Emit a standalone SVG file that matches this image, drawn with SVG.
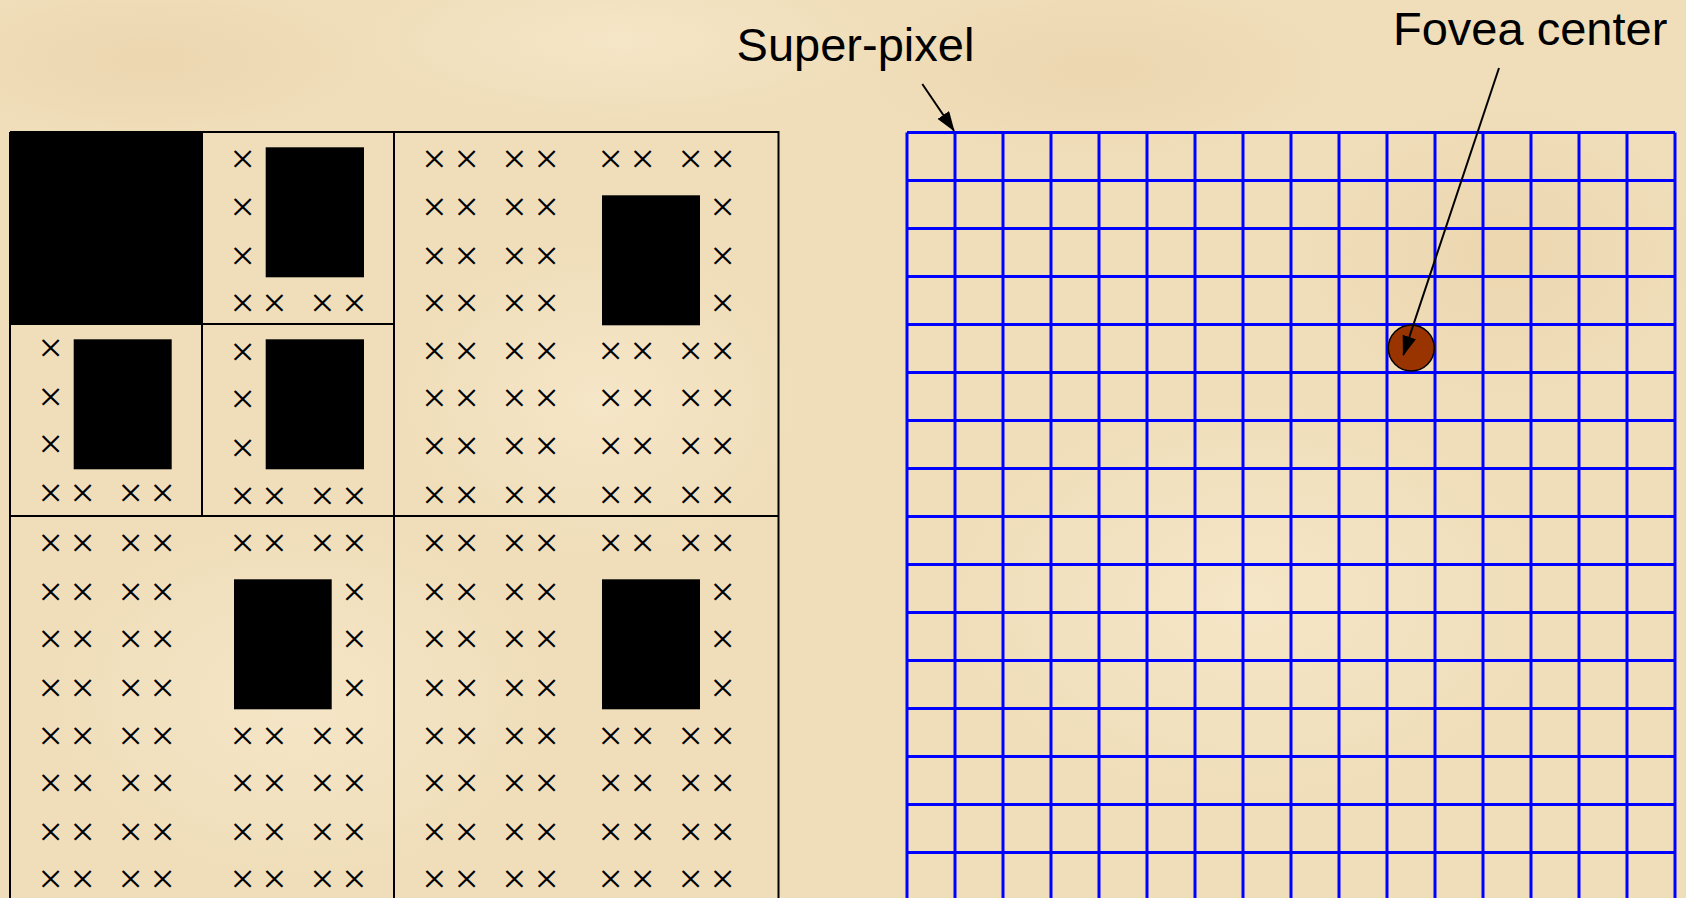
<svg xmlns="http://www.w3.org/2000/svg" width="1686" height="898" viewBox="0 0 1686 898">
<defs>
<style>
.bg{fill:#F0DEBA}
.ln{stroke:#000;stroke-width:2;fill:none}
.blk{fill:#000}
.x{font-family:"Liberation Serif","Times New Roman",serif;font-size:43px;fill:#000;text-anchor:middle}
.lbl{font-family:"Liberation Sans",Arial,sans-serif;font-size:47px;fill:#000}
.grid{stroke:#0000FF;stroke-width:3;fill:none}
.arr{stroke:#000;stroke-width:2;fill:none}
</style>
<marker id="ah" markerWidth="20" markerHeight="14" refX="19" refY="7" orient="auto" markerUnits="userSpaceOnUse">
<path d="M0,0 L20,7 L0,14 z" fill="#000"/>
</marker>
<radialGradient id="blot" cx="50%" cy="50%" r="50%">
<stop offset="0" stop-color="#E6CDA2" stop-opacity="0.45"/>
<stop offset="1" stop-color="#E6CDA2" stop-opacity="0"/>
</radialGradient>
<radialGradient id="lite" cx="50%" cy="50%" r="50%">
<stop offset="0" stop-color="#F8EBD0" stop-opacity="0.6"/>
<stop offset="1" stop-color="#F8EBD0" stop-opacity="0"/>
</radialGradient>
</defs>

<g id="background">
<rect class="bg" x="0" y="0" width="1686" height="898"/>
<ellipse cx="150" cy="60" rx="220" ry="80" fill="url(#blot)"/>
<ellipse cx="620" cy="40" rx="260" ry="80" fill="url(#lite)"/>
<ellipse cx="1100" cy="70" rx="240" ry="90" fill="url(#blot)"/>
<ellipse cx="1250" cy="600" rx="300" ry="200" fill="url(#lite)"/>
<ellipse cx="1500" cy="250" rx="200" ry="150" fill="url(#blot)"/>
<ellipse cx="300" cy="700" rx="250" ry="180" fill="url(#lite)"/>
<ellipse cx="600" cy="400" rx="200" ry="160" fill="url(#lite)"/>
</g>

<g id="quadtree">
<g id="frame">
<path class="ln" d="M10,132 H778.5 V900 M10,132 V900 M394,132 V900 M10,516 H778.5 M202,132 V516 M10,324 H394"/>
</g>
<g id="block-a">
<rect class="blk" x="10" y="132" width="193" height="192"/>
</g>
<g id="block-b">
<rect class="blk" x="265.7" y="147.3" width="98.3" height="130"/>
<text class="x" x="242.7" y="173.3">×</text>
<text class="x" x="242.7" y="221.3">×</text>
<text class="x" x="242.7" y="269.5">×</text>
<text class="x" x="242.7 274.3 298 322.3 354.3" y="317.3">×× ××</text>
</g>
<g id="block-c">
<rect class="blk" x="73.7" y="339.3" width="98" height="130"/>
<text class="x" x="50.7" y="362.3">×</text>
<text class="x" x="50.7" y="410.7">×</text>
<text class="x" x="50.7" y="458.3">×</text>
<text class="x" x="50.7 82.7 106 130.7 162.7" y="506.7">×× ××</text>
</g>
<g id="block-d">
<rect class="blk" x="265.7" y="339.3" width="98.3" height="130"/>
<text class="x" x="242.7" y="365.7">×</text>
<text class="x" x="242.7" y="413.3">×</text>
<text class="x" x="242.7" y="461.7">×</text>
<text class="x" x="242.7 274.3 298 322.3 354.3" y="509.7">×× ××</text>
</g>
<g id="quad-top-right">
<rect class="blk" x="602" y="195.3" width="98" height="130"/>
<text class="x" x="434.3 466.7 490 514.3 546.7 578 610.7 642.7 666 690.7 722.7" y="173.3">×× ×× ×× ××</text>
<text class="x" x="434.3 466.7 490 514.3 546.7 620 722.7" y="221.3">×× ×× ×</text>
<text class="x" x="434.3 466.7 490 514.3 546.7 620 722.7" y="269.5">×× ×× ×</text>
<text class="x" x="434.3 466.7 490 514.3 546.7 620 722.7" y="317.3">×× ×× ×</text>
<text class="x" x="434.3 466.7 490 514.3 546.7 578 610.7 642.7 666 690.7 722.7" y="364.6">×× ×× ×× ××</text>
<text class="x" x="434.3 466.7 490 514.3 546.7 578 610.7 642.7 666 690.7 722.7" y="411.9">×× ×× ×× ××</text>
<text class="x" x="434.3 466.7 490 514.3 546.7 578 610.7 642.7 666 690.7 722.7" y="460.3">×× ×× ×× ××</text>
<text class="x" x="434.3 466.7 490 514.3 546.7 578 610.7 642.7 666 690.7 722.7" y="508.6">×× ×× ×× ××</text>
</g>
<g id="quad-bottom-left">
<rect class="blk" x="234" y="579.3" width="97.7" height="130"/>
<text class="x" x="50.7 82.7 106 130.7 162.7 200 242.7 274.3 298 322.3 354.3" y="557.3">×× ×× ×× ××</text>
<text class="x" x="50.7 82.7 106 130.7 162.7 200 354.3" y="605.7">×× ×× ×</text>
<text class="x" x="50.7 82.7 106 130.7 162.7 200 354.3" y="653.3">×× ×× ×</text>
<text class="x" x="50.7 82.7 106 130.7 162.7 200 354.3" y="701.7">×× ×× ×</text>
<text class="x" x="50.7 82.7 106 130.7 162.7 200 242.7 274.3 298 322.3 354.3" y="749.7">×× ×× ×× ××</text>
<text class="x" x="50.7 82.7 106 130.7 162.7 200 242.7 274.3 298 322.3 354.3" y="797.3">×× ×× ×× ××</text>
<text class="x" x="50.7 82.7 106 130.7 162.7 200 242.7 274.3 298 322.3 354.3" y="845.7">×× ×× ×× ××</text>
<text class="x" x="50.7 82.7 106 130.7 162.7 200 242.7 274.3 298 322.3 354.3" y="893.3">×× ×× ×× ××</text>
</g>
<g id="quad-bottom-right">
<rect class="blk" x="602" y="579.3" width="98" height="130"/>
<text class="x" x="434.3 466.7 490 514.3 546.7 578 610.7 642.7 666 690.7 722.7" y="557.3">×× ×× ×× ××</text>
<text class="x" x="434.3 466.7 490 514.3 546.7 620 722.7" y="605.7">×× ×× ×</text>
<text class="x" x="434.3 466.7 490 514.3 546.7 620 722.7" y="653.3">×× ×× ×</text>
<text class="x" x="434.3 466.7 490 514.3 546.7 620 722.7" y="701.7">×× ×× ×</text>
<text class="x" x="434.3 466.7 490 514.3 546.7 578 610.7 642.7 666 690.7 722.7" y="749.7">×× ×× ×× ××</text>
<text class="x" x="434.3 466.7 490 514.3 546.7 578 610.7 642.7 666 690.7 722.7" y="797.3">×× ×× ×× ××</text>
<text class="x" x="434.3 466.7 490 514.3 546.7 578 610.7 642.7 666 690.7 722.7" y="845.7">×× ×× ×× ××</text>
<text class="x" x="434.3 466.7 490 514.3 546.7 578 610.7 642.7 666 690.7 722.7" y="893.3">×× ×× ×× ××</text>
</g>
</g>

<g id="superpixel-grid">
<path class="grid" d="M907,132.5 V900 M955,132.5 V900 M1003,132.5 V900 M1051,132.5 V900 M1099,132.5 V900 M1147,132.5 V900 M1195,132.5 V900 M1243,132.5 V900 M1291,132.5 V900 M1339,132.5 V900 M1387,132.5 V900 M1435,132.5 V900 M1483,132.5 V900 M1531,132.5 V900 M1579,132.5 V900 M1627,132.5 V900 M1675,132.5 V900 M907,132.5 H1675 M907,180.5 H1675 M907,228.5 H1675 M907,276.5 H1675 M907,324.5 H1675 M907,372.5 H1675 M907,420.5 H1675 M907,468.5 H1675 M907,516.5 H1675 M907,564.5 H1675 M907,612.5 H1675 M907,660.5 H1675 M907,708.5 H1675 M907,756.5 H1675 M907,804.5 H1675 M907,852.5 H1675"/>
</g>

<g id="fovea">
<circle cx="1411.3" cy="348" r="23" fill="#993300" stroke="#000" stroke-width="1.5"/>
</g>

<g id="label-superpixel">
<text class="lbl" x="736.6" y="61">Super-pixel</text>
</g>
<g id="label-fovea">
<text class="lbl" x="1393" y="45">Fovea center</text>
</g>

<g id="connectors">
<line class="arr" x1="922.3" y1="84" x2="954" y2="130.7" marker-end="url(#ah)"/>
<line class="arr" x1="1499" y1="68" x2="1403.3" y2="355" marker-end="url(#ah)"/>
</g>
</svg>
